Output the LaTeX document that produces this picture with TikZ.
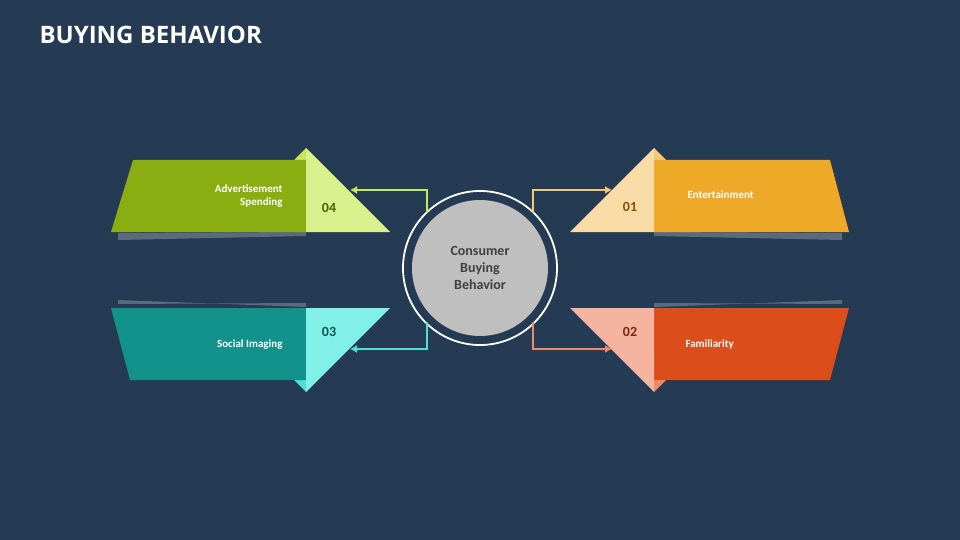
\documentclass[tikz,border=0pt]{standalone}
\usepackage{fontspec}
\setmainfont{Carlito}
\newfontfamily\titlefont{Open Sans}
\definecolor{bg}{HTML}{253A53}
\definecolor{gA}{HTML}{8AAE12}\definecolor{gB}{HTML}{DAF08C}\definecolor{gC}{HTML}{C5E855}\definecolor{gT}{HTML}{4A5E0A}
\definecolor{tA}{HTML}{12928A}\definecolor{tB}{HTML}{80F0E8}\definecolor{tC}{HTML}{4DE0D8}\definecolor{tT}{HTML}{0E5450}
\definecolor{oA}{HTML}{EEA928}\definecolor{oB}{HTML}{F8DBA5}\definecolor{oC}{HTML}{F5C878}\definecolor{oT}{HTML}{7F5208}
\definecolor{rA}{HTML}{DB4D1A}\definecolor{rB}{HTML}{F4B4A0}\definecolor{rC}{HTML}{EE8A68}\definecolor{rT}{HTML}{7A2A10}
\begin{document}
\begin{tikzpicture}[x=1pt,y=-1pt,
  lbl/.style={text=white,font=\bfseries\fontsize{11}{13}\selectfont},
  num/.style={font=\bfseries\fontsize{14}{16}\selectfont},
  conn/.style={line width=1.3pt,-{Latex[length=7pt,width=8pt]}},
  shad/.style={fill=white,opacity=0.25}]
\usetikzlibrary{arrows.meta}
\fill[bg] (0,0) rectangle (960,540);
\useasboundingbox (0,0) rectangle (960,540);
\node[anchor=west,text=white,font=\titlefont\bfseries\fontsize{24}{28}\selectfont] (title) at (36,35) {BUYING BEHAVIOR};
% shadows
\fill[shad] (118,233) -- (306,232) -- (306,236) -- (118,240) -- cycle;
\fill[shad] (118,300) -- (306,307) -- (306,303) -- (118,304) -- cycle;
\fill[shad] (842,233) -- (654,232) -- (654,236) -- (842,240) -- cycle;
\fill[shad] (842,300) -- (654,307) -- (654,303) -- (842,304) -- cycle;
% top left
\fill[gC] (306,148) -- (294,160) -- (306,160) -- cycle;
\fill[gA] (111,232) -- (133,160) -- (306,160) -- (306,232) -- cycle;
\fill[gB] (306,148) -- (390,232) -- (306,232) -- cycle;
\node[lbl,align=right,anchor=east] (t4) at (286,196) {Advertisement\\Spending};
\node[num,text=gT] (n4) at (329,208) {04};
% bottom left
\fill[tC] (306,392) -- (294,380) -- (306,380) -- cycle;
\fill[tA] (111,308) -- (306,308) -- (306,380) -- (130,380) -- cycle;
\fill[tB] (306,392) -- (390,308) -- (306,308) -- cycle;
\node[lbl,anchor=east] (t3) at (286,345) {Social Imaging};
\node[num,text=tT] (n3) at (329,332) {03};
% top right
\fill[oC] (654,148) -- (666,160) -- (654,160) -- cycle;
\fill[oA] (654,160) -- (830,160) -- (849,232) -- (654,232) -- cycle;
\fill[oB] (654,148) -- (570,232) -- (654,232) -- cycle;
\node[lbl,anchor=west] (t1) at (684,195) {Entertainment};
\node[num,text=oT] (n1) at (630,207) {01};
% bottom right
\fill[rC] (654,392) -- (666,380) -- (654,380) -- cycle;
\fill[rA] (654,308) -- (849,308) -- (830,380) -- (654,380) -- cycle;
\fill[rB] (654,392) -- (570,308) -- (654,308) -- cycle;
\node[lbl,anchor=west] (t2) at (682,345) {Familiarity};
\node[num,text=rT] (n2) at (630,332) {02};
% centre
\node[circle,draw=white,line width=1.8pt,minimum size=154pt] (ring) at (480,268) {};
\node[circle,fill=gray!50!white,minimum size=136pt,align=center,text=black!75,
  font=\bfseries\fontsize{14}{17}\selectfont] (c) at (480,268) {Consumer\\Buying\\Behavior};
\coordinate (a4) at (350,190);\coordinate (a3) at (350,349);
\coordinate (a1) at (612,190);\coordinate (a2) at (612,349);
\draw[conn,gC] (427,213) |- (a4);
\draw[conn,tC] (427,322) |- (a3);
\draw[conn,oC] (533,213) |- (a1);
\draw[conn,rC] (533,322) |- (a2);
\end{tikzpicture}
\end{document}
